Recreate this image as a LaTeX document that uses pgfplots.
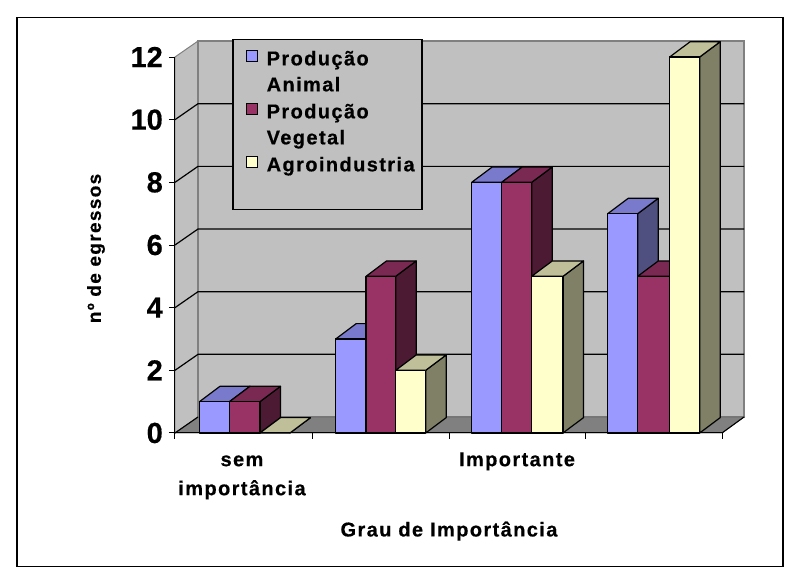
\documentclass[border=0pt]{standalone}
\usepackage{pgfplots}
\pgfplotsset{compat=1.18}
\usepackage{fontspec}
\setmainfont[BoldFeatures={FakeBold=0.5}]{Liberation Sans}
\newfontfamily\lsfont[BoldFeatures={LetterSpace=7,FakeBold=0.5}]{Liberation Sans}
\definecolor{wall}{HTML}{C0C0C0}
\definecolor{floorc}{HTML}{808080}
\definecolor{bluef}{HTML}{9999FF}
\definecolor{bluet}{HTML}{7A7ACC}
\definecolor{blues}{HTML}{505080}
\definecolor{redf}{HTML}{993366}
\definecolor{redt}{HTML}{7A2952}
\definecolor{reds}{HTML}{4D1A33}
\definecolor{yelf}{HTML}{FFFFCC}
\definecolor{yelt}{HTML}{BFBF99}
\definecolor{yels}{HTML}{808066}
% polygon in axis coordinates
\newcommand\poly[3]{\addplot[forget plot,#1,fill=#2] coordinates {#3} -- cycle;}
% one 3-D bar: x0, x1, value, front colour, top colour, side colour
\newcommand\tdbar[6]{%
  \pgfmathsetmacro\xa{#2+20.5}\pgfmathsetmacro\xb{#1+20.5}%
  \pgfmathsetmacro\vb{#3+0.49}%
  \edef\tmp{%
  \noexpand\poly{draw=black,line width=1.2pt,line join=round}{#6}{(#2,0) (\xa,0.49) (\xa,\vb) (#2,#3)}%
  \noexpand\poly{draw=black,line width=1.2pt,line join=round}{#5}{(#1,#3) (\xb,\vb) (\xa,\vb) (#2,#3)}%
  }\tmp
  \ifdim #3pt>0pt \poly{draw=black,line width=1.2pt,line join=round}{#4}{(#1,0) (#1,#3) (#2,#3) (#2,0)}\fi
}
\newcommand\grid[1]{%
  \pgfmathsetmacro\vb{#1+0.51}%
  \edef\tmp{\noexpand\addplot[forget plot,draw=black,line width=1.2pt] coordinates {(175,#1) (198,\vb) (744,\vb)};}\tmp
}
\pgfplotsset{sw/.style={legend image code/.code={%
  \draw[draw=black,line width=1pt,##1] (0pt,-1pt) rectangle (11pt,10pt);}}}
\begin{document}
\begin{tikzpicture}
\begin{axis}[
  x=1pt, y=31.33pt,
  xmin=175, xmax=722, ymin=0, ymax=12,
  clip=false,
  axis on top,
  axis lines*=left,
  axis line style={line width=1pt,black},
  no marks,
  ytick={0,2,4,6,8,10,12},
  xtick={175,312,449,585,722},
  xticklabels={},
  extra x ticks={242,517},
  extra x tick labels={\rule{0pt}{15pt}sem\\importância,\rule{0pt}{15pt}Importante},
  extra x tick style={major tick length=0pt,
    xticklabel style={font=\fontsize{20}{29}\lsfont\bfseries,align=center,anchor=north,yshift=-18pt,inner sep=0pt}},
  tick style={black,line width=1pt},
  major tick length=6pt,
  tick align=outside,
  /pgf/number format/assume math mode=true,
  yticklabel style={font=\fontsize{29}{29}\selectfont\bfseries,inner sep=0pt,xshift=-6pt},
  legend style={at={(axis cs:246,12.22)},anchor=north west,draw=none,fill=none,
    font=\fontsize{20}{24}\lsfont\bfseries,inner sep=0pt,
    nodes={inner sep=0pt,text height=14pt,text depth=5pt},
    /tikz/every odd column/.append style={column sep=8.5pt},
    row sep=7pt},
  legend cell align=left,
]
% page and frame
\path (axis cs:0,-4.788) rectangle (axis cs:797,13.82);
\draw[draw=black,line width=1.2pt] (axis cs:17,13.25) rectangle (axis cs:783,-4.25);
% walls and floor
\poly{draw=floorc,line width=1pt}{wall}{(175,0) (198,0.51) (198,12.51) (175,12)}
\poly{draw=floorc,line width=1.5pt}{wall}{(198,0.51) (744,0.51) (744,12.51) (198,12.51)}
\poly{draw=black!60,line width=0.8pt}{floorc}{(175,0) (198,0.51) (744,0.51) (722,0)}
\addplot[forget plot,draw=black,line width=1.1pt] coordinates {(722,0) (744,0.51)};
\addplot[forget plot,draw=black,line width=1.1pt] coordinates {(175,0) (198,0.51)};
\grid{2}\grid{4}\grid{6}\grid{8}\grid{10}
% bars
\tdbar{199.5}{229.5}{1}{bluef}{bluet}{blues}
\tdbar{229.5}{260}{1}{redf}{redt}{reds}
\tdbar{260}{290}{0}{yelf}{yelt}{yels}
\tdbar{335.7}{366}{3}{bluef}{bluet}{blues}
\tdbar{366}{395.7}{5}{redf}{redt}{reds}
\tdbar{395.7}{425.7}{2}{yelf}{yelt}{yels}
\tdbar{471.7}{501.7}{8}{bluef}{bluet}{blues}
\tdbar{501.7}{531.7}{8}{redf}{redt}{reds}
\tdbar{531.7}{563}{5}{yelf}{yelt}{yels}
\tdbar{607.7}{637.7}{7}{bluef}{bluet}{blues}
\tdbar{637.7}{669.7}{5}{redf}{redt}{reds}
\tdbar{669.7}{699.7}{12}{yelf}{yelt}{yels}
% legend box
\poly{draw=black,line width=1.2pt}{wall}{(233,12.55) (422,12.55) (422,7.13) (233,7.13)}
\addlegendimage{sw,fill=bluef}
\addlegendentry{Produção}
\addlegendimage{empty legend}
\addlegendentry{Animal}
\addlegendimage{sw,fill=redf}
\addlegendentry{Produção}
\addlegendimage{empty legend}
\addlegendentry{Vegetal}
\addlegendimage{sw,fill=yelf}
\addlegendentry{Agroindustria}
% axis titles
\node[font=\fontsize{20}{24}\lsfont\bfseries,anchor=center] at (axis cs:449,-3.13) {Grau de Importância};
\node[font=\fontsize{19}{24}\lsfont\bfseries,rotate=90,anchor=center] at (axis cs:96,5.89) {nº de egressos};
\end{axis}
\end{tikzpicture}
\end{document}
